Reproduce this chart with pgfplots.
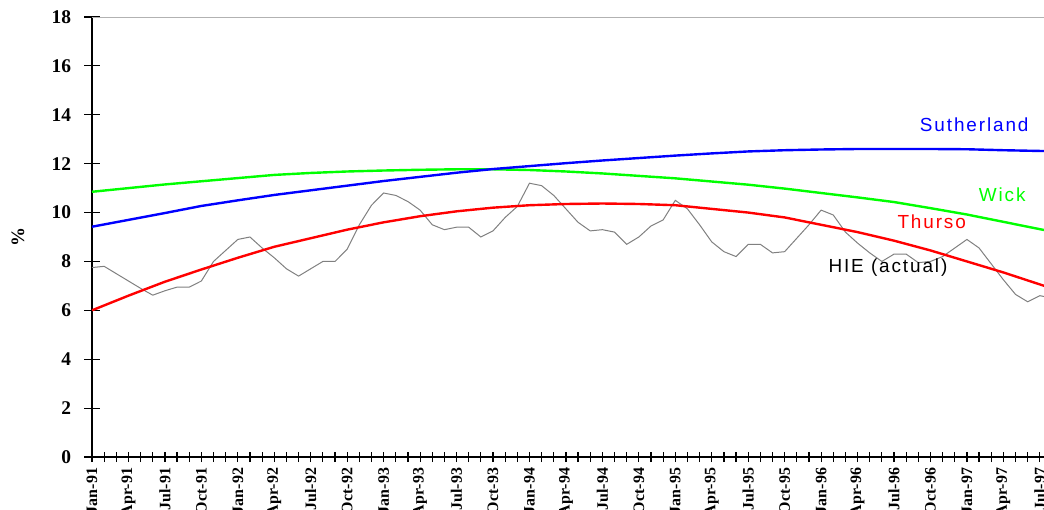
\documentclass[border=0pt]{standalone}
\usepackage{fontspec}
\setmainfont{Liberation Serif}
\newfontfamily\lab[LetterSpace=10]{Liberation Sans}
\usepackage{pgfplots}
\usepackage{pgfplotstable}
\pgfplotsset{compat=1.18}

\pgfplotstableread{
m v
0 7.75
1 7.8
2 7.5
3 7.2
4 6.9
5 6.62
6 6.8
7 6.95
8 6.95
9 7.2
10 8.0
11 8.45
12 8.9
13 9.0
14 8.55
15 8.15
16 7.7
17 7.4
18 7.7
19 8.0
20 8.0
21 8.5
22 9.5
23 10.3
24 10.8
25 10.7
26 10.45
27 10.1
28 9.5
29 9.3
30 9.4
31 9.4
32 9.0
33 9.25
34 9.8
35 10.25
36 11.2
37 11.1
38 10.7
39 10.15
40 9.6
41 9.25
42 9.3
43 9.2
44 8.7
45 9.0
46 9.45
47 9.7
48 10.5
49 10.15
50 9.5
51 8.8
52 8.4
53 8.2
54 8.7
55 8.7
56 8.35
57 8.4
58 8.95
59 9.5
60 10.1
61 9.9
62 9.2
63 8.75
64 8.35
65 8.0
66 8.3
67 8.3
68 7.95
69 8.0
70 8.2
71 8.55
72 8.9
73 8.55
74 7.9
75 7.25
76 6.65
77 6.35
78 6.6
79 6.5
}\hie

\pgfplotstableread{
m thurso wick suth
0 6.0 10.85 9.42
3 6.6 11.0 9.7
6 7.17 11.15 9.98
9 7.67 11.28 10.27
12 8.15 11.41 10.5
15 8.6 11.54 10.72
18 8.95 11.62 10.91
21 9.3 11.68 11.1
24 9.6 11.72 11.29
27 9.85 11.75 11.46
30 10.05 11.77 11.63
33 10.2 11.77 11.78
36 10.3 11.74 11.9
39 10.35 11.68 12.02
42 10.37 11.6 12.13
45 10.35 11.5 12.23
48 10.3 11.4 12.33
51 10.15 11.27 12.42
54 10.0 11.14 12.5
57 9.8 10.98 12.55
60 9.5 10.8 12.58
63 9.2 10.62 12.6
66 8.85 10.43 12.6
69 8.45 10.18 12.6
72 8.0 9.92 12.59
75 7.55 9.62 12.55
78 7.06 9.32 12.52
79 6.9 9.22 12.51
}\models

\begin{document}
\begin{tikzpicture}
\begin{axis}[
  scale only axis, width=960bp, height=440bp,
  xmin=0, xmax=79, ymin=0, ymax=18,
  axis x line*=bottom, axis y line*=left,
  axis line style={black, line width=1.2bp},
  xtick={0,3,...,78},
  xticklabels={Jan-91,Apr-91,Jul-91,Oct-91,Jan-92,Apr-92,Jul-92,Oct-92,Jan-93,Apr-93,Jul-93,Oct-93,Jan-94,Apr-94,Jul-94,Oct-94,Jan-95,Apr-95,Jul-95,Oct-95,Jan-96,Apr-96,Jul-96,Oct-96,Jan-97,Apr-97,Jul-97},
  minor xtick={0,...,79},
  ytick={0,2,...,18},
  tick align=center,
  major tick length=15bp, minor tick length=10bp,
  tick style={black, line width=1.2bp},
  every major x tick/.append style={draw=none},
  /pgf/number format/assume math mode=true,
  xticklabel style={rotate=90, anchor=east, font=\bfseries\fontsize{16}{16}\selectfont},
  yticklabel style={anchor=east, xshift=-10bp, font=\bfseries\fontsize{19.5}{19.5}\selectfont},
  ylabel={\bfseries\%},
  ylabel style={at={(axis description cs:-0.0771,0.5)}, anchor=center, font=\fontsize{19}{19}\selectfont},
  clip=true,
]
\addplot[gray, line width=1bp] table[x=m, y=v] {\hie};
\addplot[red, line width=2.4bp] table[x=m, y=thurso] {\models};
\addplot[green, line width=2.4bp] table[x=m, y=wick] {\models};
\addplot[blue, line width=2.4bp] table[x=m, y=suth] {\models};
\draw[gray!60, line width=0.8bp] (rel axis cs:0,1) -- (rel axis cs:1,1);
\node[blue, font=\lab\fontsize{19}{19}\selectfont] at (axis cs:72.6,13.58) {Sutherland};
\node[green, font=\lab\fontsize{19}{19}\selectfont] at (axis cs:74.9,10.72) {Wick};
\node[red, font=\lab\fontsize{19}{19}\selectfont] at (axis cs:69.1,9.62) {Thurso};
\node[black, font=\lab\fontsize{19}{19}\selectfont] at (axis cs:65.5,7.73) {HIE (actual)};
\coordinate (O) at (axis cs:0,0);
\end{axis}
\pgfresetboundingbox
\path ([shift={(-92bp,-53bp)}]O) rectangle ([shift={(952bp,457bp)}]O);
\end{tikzpicture}
\end{document}
